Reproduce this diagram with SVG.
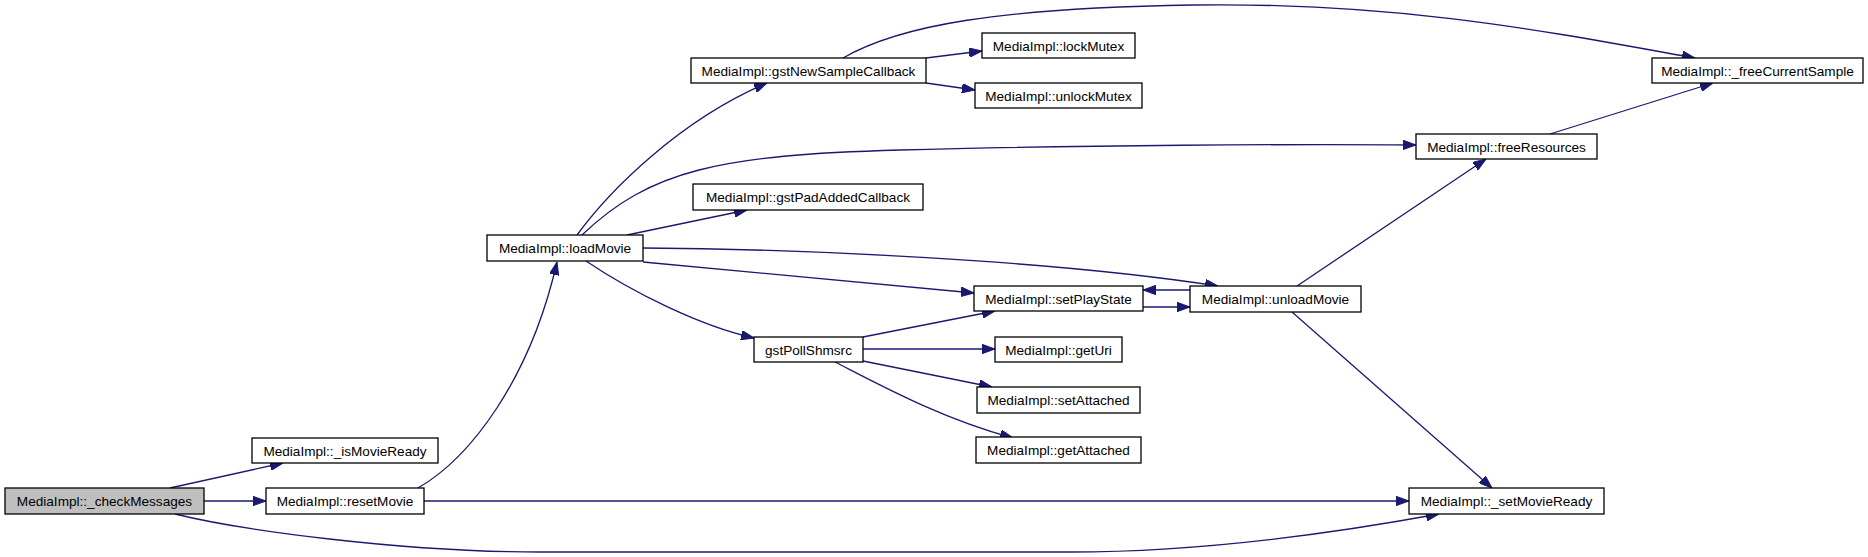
<svg xmlns="http://www.w3.org/2000/svg" width="1868" height="557" viewBox="0 0 1868 557">
<style>
.n rect{fill:#ffffff;stroke:#000000;stroke-width:1.3}
.n text{font-family:"Liberation Sans",Arial,sans-serif;font-size:13.6px;fill:#000000;text-anchor:middle}
#n_checkMessages rect{fill:#bfbfbf}
.e path{fill:none;stroke:#191970;stroke-width:1.3;marker-end:url(#arr)}
</style>
<defs>
<marker id="arr" viewBox="0 0 13 9.4" refX="13" refY="4.7" markerWidth="13" markerHeight="9.4" orient="auto" markerUnits="userSpaceOnUse">
<path d="M0,0 L13,4.7 L0,9.4 z" fill="#191970" stroke="#191970" stroke-width="1"/>
</marker>
</defs>
<rect width="1868" height="557" fill="#ffffff"/>
<g id="edges" class="e">
<path d="M170,488 L283,463"/>
<path d="M204,501 L266,501"/>
<path d="M175,514 C240,530 400,552 540,552 L1070,552 C1200,552 1330,534 1439,514"/>
<path d="M418,488 C470,458 530,380 557,262"/>
<path d="M424,501 L1409,501"/>
<path d="M577,235 C610,190 680,120 767,83"/>
<path d="M582,235 C650,170 720,155 900,150 S1300,144 1416,145"/>
<path d="M627,235 L747,210"/>
<path d="M643,248 C800,249 1050,260 1218,286"/>
<path d="M643,262 L974,293"/>
<path d="M586,261 C632,292 700,326 754,338"/>
<path d="M926,58 L982,51"/>
<path d="M926,83 L975,90"/>
<path d="M843,58 C900,25 1000,8 1193,5 C1400,2 1550,32 1695,58"/>
<path d="M1550,134 L1713,83"/>
<path d="M1143,307 L1190,307"/>
<path d="M1190,290 L1143,290"/>
<path d="M1297,286 L1486,159"/>
<path d="M1292,312 L1492,488"/>
<path d="M863,337 L995,311"/>
<path d="M863,349 L995,349"/>
<path d="M863,361 L992,387"/>
<path d="M835,362 C880,385 940,418 1013,438"/>
</g>
<g id="n_checkMessages" class="n"><rect x="5" y="488" width="199" height="26"/><text x="104.5" y="506">MediaImpl::_checkMessages</text></g>
<g id="n_isMovieReady" class="n"><rect x="252" y="438" width="186" height="25"/><text x="345" y="455.5">MediaImpl::_isMovieReady</text></g>
<g id="n_resetMovie" class="n"><rect x="266" y="488" width="158" height="26"/><text x="345" y="506">MediaImpl::resetMovie</text></g>
<g id="n_loadMovie" class="n"><rect x="487" y="235" width="156" height="26"/><text x="565" y="253">MediaImpl::loadMovie</text></g>
<g id="n_gstNewSampleCallback" class="n"><rect x="691" y="58" width="235" height="25"/><text x="808.5" y="75.5">MediaImpl::gstNewSampleCallback</text></g>
<g id="n_lockMutex" class="n"><rect x="982" y="33" width="153" height="25"/><text x="1058.5" y="50.5">MediaImpl::lockMutex</text></g>
<g id="n_unlockMutex" class="n"><rect x="975" y="83" width="167" height="25"/><text x="1058.5" y="100.5">MediaImpl::unlockMutex</text></g>
<g id="n_gstPadAddedCallback" class="n"><rect x="693" y="184" width="230" height="26"/><text x="808" y="202">MediaImpl::gstPadAddedCallback</text></g>
<g id="n_setPlayState" class="n"><rect x="974" y="286" width="169" height="25"/><text x="1058.5" y="303.5">MediaImpl::setPlayState</text></g>
<g id="n_gstPollShmsrc" class="n"><rect x="754" y="337" width="109" height="25"/><text x="808.5" y="354.5">gstPollShmsrc</text></g>
<g id="n_getUri" class="n"><rect x="995" y="337" width="127" height="25"/><text x="1058.5" y="354.5">MediaImpl::getUri</text></g>
<g id="n_setAttached" class="n"><rect x="977" y="387" width="163" height="26"/><text x="1058.5" y="405">MediaImpl::setAttached</text></g>
<g id="n_getAttached" class="n"><rect x="976" y="437" width="165" height="26"/><text x="1058.5" y="455">MediaImpl::getAttached</text></g>
<g id="n_unloadMovie" class="n"><rect x="1190" y="286" width="171" height="26"/><text x="1275.5" y="304">MediaImpl::unloadMovie</text></g>
<g id="n_freeCurrentSample" class="n"><rect x="1652" y="58" width="211" height="25"/><text x="1757.5" y="75.5">MediaImpl::_freeCurrentSample</text></g>
<g id="n_freeResources" class="n"><rect x="1416" y="134" width="181" height="25"/><text x="1506.5" y="151.5">MediaImpl::freeResources</text></g>
<g id="n_setMovieReady" class="n"><rect x="1409" y="488" width="195" height="26"/><text x="1506.5" y="506">MediaImpl::_setMovieReady</text></g>
</svg>
